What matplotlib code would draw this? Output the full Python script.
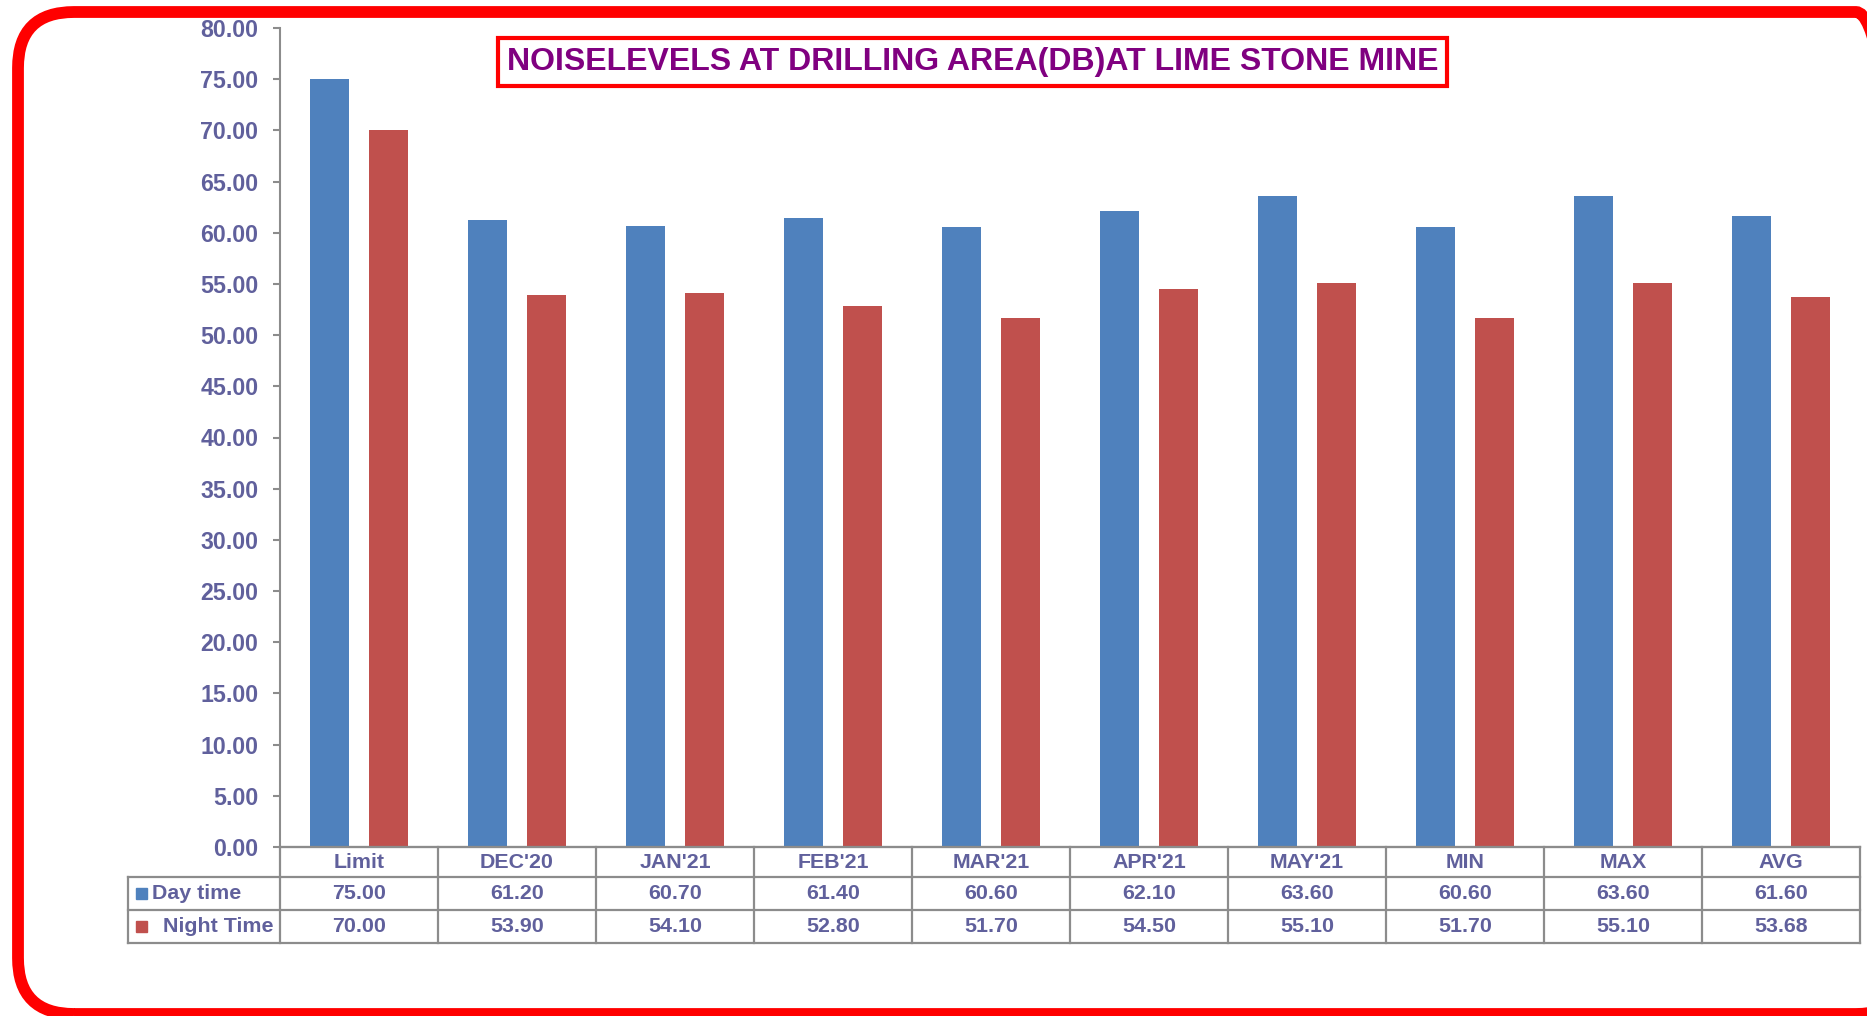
import matplotlib
matplotlib.use("Agg")
import matplotlib.pyplot as plt
from matplotlib.patches import FancyBboxPatch, Rectangle
from matplotlib.lines import Line2D
from matplotlib import font_manager as fm

categories = ["Limit", "DEC'20", "JAN'21", "FEB'21", "MAR'21", "APR'21", "MAY'21", "MIN", "MAX", "AVG"]
day_time = [75.00, 61.20, 60.70, 61.40, 60.60, 62.10, 63.60, 60.60, 63.60, 61.60]
night_time = [70.00, 53.90, 54.10, 52.80, 51.70, 54.50, 55.10, 51.70, 55.10, 53.68]
series_names = ["Day time", "Night Time"]
title = "NOISELEVELS AT DRILLING AREA(DB)AT LIME STONE MINE"

W, H = 1867, 1016
fig = plt.figure(figsize=(W / 100, H / 100), dpi=100)
fig.patch.set_facecolor("white")

names = {f.name for f in fm.fontManager.ttflist}
base = "Liberation Sans" if "Liberation Sans" in names else "DejaVu Sans"
narrow = "Liberation Sans Narrow" if "Liberation Sans Narrow" in names else base
plt.rcParams["font.family"] = [base, "DejaVu Sans"]

TXT = "#60609C"
BLUE = "#4F81BD"
RED = "#C0504D"
GRID = "#8C8C8C"

def fx(px):
    return px / W

def fy(py):
    return 1 - py / H

# axes geometry in pixels
ax_l, ax_r, ax_t, ax_b = 280, 1860, 28, 847
ax = fig.add_axes([fx(ax_l), fy(ax_b), fx(ax_r) - fx(ax_l), fy(ax_t) - fy(ax_b)])
n = len(categories)
x = list(range(n))
bw = 0.247
off = 0.187
ax.bar([i - off for i in x], day_time, width=bw, color=BLUE, edgecolor="none")
ax.bar([i + off for i in x], night_time, width=bw, color=RED, edgecolor="none")
ax.set_xlim(-0.5, n - 0.5)
ax.set_ylim(0, 80)
ax.set_yticks(range(0, 81, 5))
ax.set_yticklabels([f"{v:.2f}" for v in range(0, 81, 5)])
ax.tick_params(axis="y", length=5, width=1.5, color=GRID, pad=10.5, labelsize=16.7, labelcolor=TXT)
for lab in ax.get_yticklabels():
    lab.set_fontweight("bold")
ax.set_xticks([])
for s in ["top", "right"]:
    ax.spines[s].set_visible(False)
ax.spines["left"].set_color(GRID)
ax.spines["left"].set_linewidth(1.5)
ax.spines["bottom"].set_color(GRID)
ax.spines["bottom"].set_linewidth(1.5)
ax.set_facecolor("none")

# data table below
row_ys = [847, 877, 910, 943]
tab_l = 128
col_w = (ax_r - ax_l) / n
lw = 1.6
TFS = 15.4
for i, yy in enumerate(row_ys):
    x0 = ax_l if i == 0 else tab_l
    fig.add_artist(Line2D([fx(x0), fx(ax_r)], [fy(yy), fy(yy)], color=GRID, lw=lw))
for j in range(n + 1):
    xx = ax_l + j * col_w
    fig.add_artist(Line2D([fx(xx), fx(xx)], [fy(847), fy(943)], color=GRID, lw=lw))
fig.add_artist(Line2D([fx(tab_l), fx(tab_l)], [fy(877), fy(943)], color=GRID, lw=lw))

for j, c in enumerate(categories):
    cx = ax_l + (j + 0.5) * col_w
    fig.text(fx(cx), fy((row_ys[0] + row_ys[1]) / 2), c, ha="center", va="center",
             fontsize=TFS, fontweight="bold", color=TXT)
    fig.text(fx(cx), fy((row_ys[1] + row_ys[2]) / 2), f"{day_time[j]:.2f}", ha="center", va="center",
             fontsize=TFS, fontweight="bold", color=TXT)
    fig.text(fx(cx), fy((row_ys[2] + row_ys[3]) / 2), f"{night_time[j]:.2f}", ha="center", va="center",
             fontsize=TFS, fontweight="bold", color=TXT)

for k, (name, col, tx) in enumerate(zip(series_names, [BLUE, RED], [152, 163])):
    cy = (row_ys[k + 1] + row_ys[k + 2]) / 2
    fig.add_artist(Rectangle((fx(136), fy(cy + 5.5)), fx(11), 11 / H, color=col, transform=fig.transFigure))
    fig.text(fx(tx), fy(cy), name, ha="left", va="center", fontsize=TFS, fontweight="bold", color=TXT)

# title with red box
tb_l, tb_r, tb_t, tb_b = 498, 1447, 38, 86
fig.add_artist(Rectangle((fx(tb_l), fy(tb_b)), fx(tb_r - tb_l), (tb_b - tb_t) / H, facecolor="white",
                         edgecolor="#FF0000", lw=3, transform=fig.transFigure))
t = fig.text(fx((tb_l + tb_r) / 2), fy((tb_t + tb_b) / 2), title, ha="center", va="center",
             fontsize=24, fontweight="bold", color="#800080", family=[narrow, "DejaVu Sans"])
fig.canvas.draw()
r = fig.canvas.get_renderer()
wpx = t.get_window_extent(r).width
target = (tb_r - tb_l) - 16
t.set_fontsize(24 * target / wpx)

# red rounded outer border (right side runs off the image)
fig.add_artist(FancyBboxPatch((fx(18), fy(1014)), fx(1912 - 18), (1014 - 12) / H,
                              boxstyle="round,pad=0,rounding_size=0.03", mutation_aspect=W / H,
                              facecolor="none", edgecolor="#FF0000", lw=8.5, transform=fig.transFigure,
                              clip_on=False))

fig.savefig("out.png", dpi=100)
